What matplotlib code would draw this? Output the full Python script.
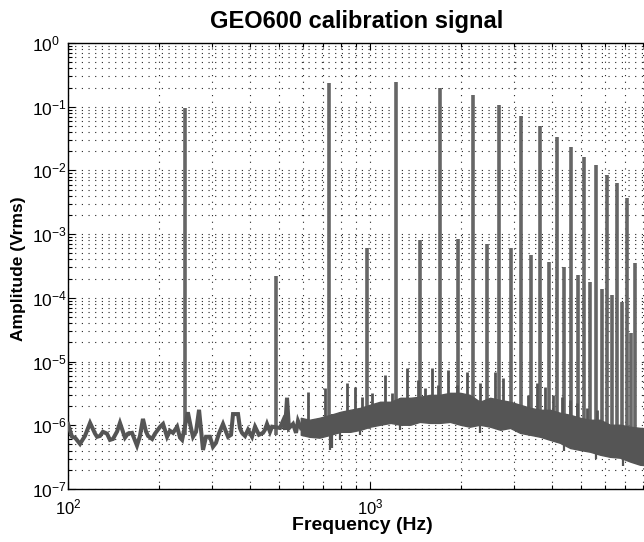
import numpy as np
import matplotlib
matplotlib.use("Agg")
import matplotlib.pyplot as plt
from matplotlib.ticker import (LogLocator, LogFormatterMathtext, NullFormatter,
                               FixedLocator, FixedFormatter)

plt.rcParams['font.family'] = ['Liberation Sans', 'DejaVu Sans']
plt.rcParams['mathtext.default'] = 'regular'

# ---------------- data ----------------
# harmonic lines of the calibration signal (Hz, Vrms)
harm_freq = [244, 488, 732, 976, 1220, 1464, 1708, 1952, 2196, 2440, 2684, 2928,
             3172, 3416, 3660, 3904, 4148, 4392, 4636, 4880, 5124, 5368, 5612,
             5856, 6100, 6344, 6588, 6832, 7076, 7320, 7564]
harm_amp = [0.097, 2.2e-4, 0.234, 6.0e-4, 0.243, 8.1e-4, 0.20, 8.3e-4, 0.15,
            7.1e-4, 0.106, 6.0e-4, 0.072, 4.7e-4, 0.05, 3.7e-4, 0.034, 3.0e-4,
            0.023, 2.3e-4, 0.016, 1.8e-4, 0.012, 1.4e-4, 0.0085, 1.1e-4,
            0.0063, 8.7e-5, 0.0037, 2.8e-5, 3.5e-4]

# low-frequency noise trace
lf_freq = [100, 103.1, 105.5, 109.6, 113.8, 118.3, 122.9, 124.8, 127.6, 130.5,
           134.6, 137.7, 140.9, 145.4, 148.6, 154.4, 157.9, 162.9, 169.2, 173.1,
           177.1, 181.2, 184.1, 189.9, 194.1, 201.9, 206.4, 212.8, 217.6, 222.7,
           229.8, 234.9, 238.7, 249.4, 255.5, 259.4, 265.4, 271.6, 279.9, 286.4,
           295.2, 302.0, 309, 316, 326, 333.6, 338.8, 346.6, 351.9, 365.6,
           371, 376.9, 385.7, 394.5, 406.7, 416.2, 428.9, 442.3, 449, 456,
           466.5, 473.8, 503.5, 515.2, 523, 531.2, 539, 556, 568.9, 577.5, 590.8]
lf_amp = [1.05e-6, 6.6e-7, 6.4e-7, 5.1e-7, 6.8e-7, 1.09e-6, 7.4e-7, 6.6e-7, 6.8e-7, 7.9e-7,
          7.4e-7, 5.9e-7, 6.1e-7, 8.0e-7, 1.09e-6, 6.4e-7, 7.4e-7, 7.6e-7, 4.8e-7, 6.8e-7,
          1.26e-6, 8.0e-7, 6.8e-7, 6.1e-7, 7.4e-7, 9.5e-7, 1.05e-6, 6.6e-7, 8.2e-7, 7.6e-7,
          9.5e-7, 6.4e-7, 5.9e-7, 1.6e-6, 9.0e-7, 6.6e-7, 7.9e-7, 1.75e-6, 4.1e-7, 6.6e-7,
          6.6e-7, 4.6e-7, 5.3e-7, 7.4e-7, 1.05e-6, 7.9e-7, 6.6e-7, 7.1e-7, 1.5e-6, 1.5e-6,
          9.0e-7, 7.6e-7, 6.8e-7, 8.5e-7, 6.6e-7, 9.5e-7, 7.1e-7, 7.6e-7, 8.5e-7, 1.05e-6,
          7.9e-7, 9.5e-7, 9.1e-7, 1.17e-6, 8.5e-7, 2.7e-6, 9.0e-7, 1.05e-6, 7.6e-7, 1.17e-6, 9.0e-7]

# dense noise band at higher frequencies (lower / upper envelope)
band_freq = [590, 630, 680, 740, 800, 860, 930, 1000, 1080, 1170, 1260, 1360,
             1460, 1580, 1700, 1840, 1990, 2140, 2310, 2500, 2700, 2910, 3140,
             3390, 3660, 3950, 4260, 4600, 4960, 5350, 5780, 6230, 6730, 7260,
             7840, 10000]
band_hi = [1.31e-6, 1.22e-6, 1.31e-6, 1.46e-6, 1.63e-6, 1.75e-6, 1.88e-6, 2.1e-6,
           2.34e-6, 2.34e-6, 2.7e-6, 2.7e-6, 2.8e-6, 3.0e-6, 3.0e-6, 3.23e-6,
           3.23e-6, 3.0e-6, 2.34e-6, 2.7e-6, 2.5e-6, 2.34e-6, 2.1e-6, 1.88e-6,
           1.75e-6, 1.75e-6, 1.57e-6, 1.46e-6, 1.31e-6, 1.22e-6, 1.22e-6, 1.02e-6,
           1.02e-6, 9.5e-7, 9.1e-7, 8.5e-7]
band_lo = [7.1e-7, 6.6e-7, 6.4e-7, 7.1e-7, 7.9e-7, 7.9e-7, 8.5e-7, 9.5e-7, 1.02e-6,
           1.09e-6, 1.02e-6, 1.02e-6, 1.13e-6, 1.09e-6, 1.09e-6, 1.13e-6, 1.02e-6,
           9.5e-7, 1.02e-6, 9.5e-7, 8.5e-7, 9.1e-7, 7.6e-7, 7.1e-7, 6.6e-7, 5.9e-7,
           5.3e-7, 4.4e-7, 4.1e-7, 3.85e-7, 3.45e-7, 3.2e-7, 3.1e-7, 2.7e-7, 2.4e-7,
           2.2e-7]

# small spurs sticking out of the band
spur_freq = [623, 710, 839, 892, 941, 1015, 1121, 1183, 1326, 1442, 1521, 1605,
             1680, 1813, 1942, 2096, 2313, 2594, 2756, 3337, 3573, 3797, 4036,
             4324, 4596, 4846, 5230, 5645]
spur_amp = [3.35e-6, 3.9e-6, 4.6e-6, 4.0e-6, 2.8e-6, 3.2e-6, 6.2e-6, 3.2e-6, 8.0e-6,
            5.2e-6, 3.9e-6, 8.0e-6, 4.3e-6, 7.4e-6, 4.3e-6, 6.9e-6, 4.6e-6, 6.9e-6,
            5.6e-6, 3.0e-6, 4.6e-6, 4.0e-6, 3.0e-6, 2.8e-6, 2.5e-6, 2.25e-6, 1.9e-6,
            1.75e-6]

# downward dips below the band
dip_freq = [737, 748, 795, 926, 1257, 2313, 4400, 5600, 6880]
dip_amp = [4.1e-7, 4.4e-7, 5.9e-7, 7.1e-7, 8.5e-7, 7.6e-7, 4.0e-7, 3.0e-7, 2.3e-7]

# axis ticks
x_ticks = [1e2, 1e3, 1e4]
x_ticklabels = ['$10^{2}$', '$10^{3}$', '']
y_ticks = [1e-7, 1e-6, 1e-5, 1e-4, 1e-3, 1e-2, 1e-1, 1e0]
y_ticklabels = ['$10^{-7}$', '$10^{-6}$', '$10^{-5}$', '$10^{-4}$',
                '$10^{-3}$', '$10^{-2}$', '$10^{-1}$', '$10^{0}$']

# ---------------- figure ----------------
col_band = '#555555'
col_peak = '#666666'
fig = plt.figure(figsize=(6.44, 5.42), dpi=100)
ax = fig.add_axes([68/644, 53/542, 604/644, 446/542])
ax.set_xscale('log')
ax.set_yscale('log')
ax.set_xlim(100, 10000)
ax.set_ylim(1e-7, 1)

# base of each vertical line: centre of the noise floor at that frequency
lbf = np.log10(band_freq)
mid = 0.5 * (np.log10(band_lo) + np.log10(band_hi))
centre = 10 ** np.interp(np.log10(harm_freq), lbf, mid, left=np.log10(7e-7))
spur_base = 10 ** np.interp(np.log10(spur_freq), lbf, mid)
dip_top = 10 ** np.interp(np.log10(dip_freq), lbf, np.log10(band_hi))

ax.vlines(harm_freq, centre, harm_amp, colors=col_peak, lw=2.6, zorder=3)
ax.vlines(spur_freq, spur_base, spur_amp, colors=col_band, lw=2.0, zorder=3)
ax.vlines(dip_freq, dip_amp, dip_top, colors=col_band, lw=1.6, zorder=3)
ax.fill_between(band_freq, band_lo, band_hi, color=col_band, lw=1.0, zorder=4)
ax.plot(lf_freq, lf_amp, color=col_band, lw=2.9, zorder=4, solid_joinstyle='miter')

ax.xaxis.set_major_locator(FixedLocator(x_ticks))
ax.xaxis.set_major_formatter(FixedFormatter(x_ticklabels))
ax.yaxis.set_major_locator(FixedLocator(y_ticks))
ax.yaxis.set_major_formatter(FixedFormatter(y_ticklabels))
ax.xaxis.set_minor_locator(LogLocator(base=10, subs=np.arange(2, 10), numticks=20))
ax.yaxis.set_minor_locator(LogLocator(base=10, subs=np.arange(2, 10), numticks=20))
ax.xaxis.set_minor_formatter(NullFormatter())
ax.yaxis.set_minor_formatter(NullFormatter())

ax.grid(True, which='both', linestyle=(0, (1, 5)), linewidth=0.8, color='0.15')
ax.set_axisbelow(True)
ax.tick_params(which='both', direction='in', top=True, right=True, width=0.8)
ax.tick_params(which='major', length=5)
ax.tick_params(which='minor', length=3)
ax.tick_params(axis='y', labelsize=12.5, pad=26)
ax.tick_params(axis='x', labelsize=12, pad=6)
for lab in ax.get_yticklabels():
    lab.set_horizontalalignment('left')
for s in ax.spines.values():
    s.set_linewidth(1.0)

fig.text(357/644, 1 - 28/542, 'GEO600 calibration signal', ha='center',
         va='baseline', fontsize=17, fontweight='bold')
fig.text(362/644, 1 - 530/542, 'Frequency (Hz)', ha='center', va='baseline',
         fontsize=14, fontweight='bold')
fig.text(18.5/644, 1 - 269/542, 'Amplitude (Vrms)', ha='center', va='center',
         rotation=90, fontsize=12.5, fontweight='bold')

fig.savefig('out.png', dpi=100)
